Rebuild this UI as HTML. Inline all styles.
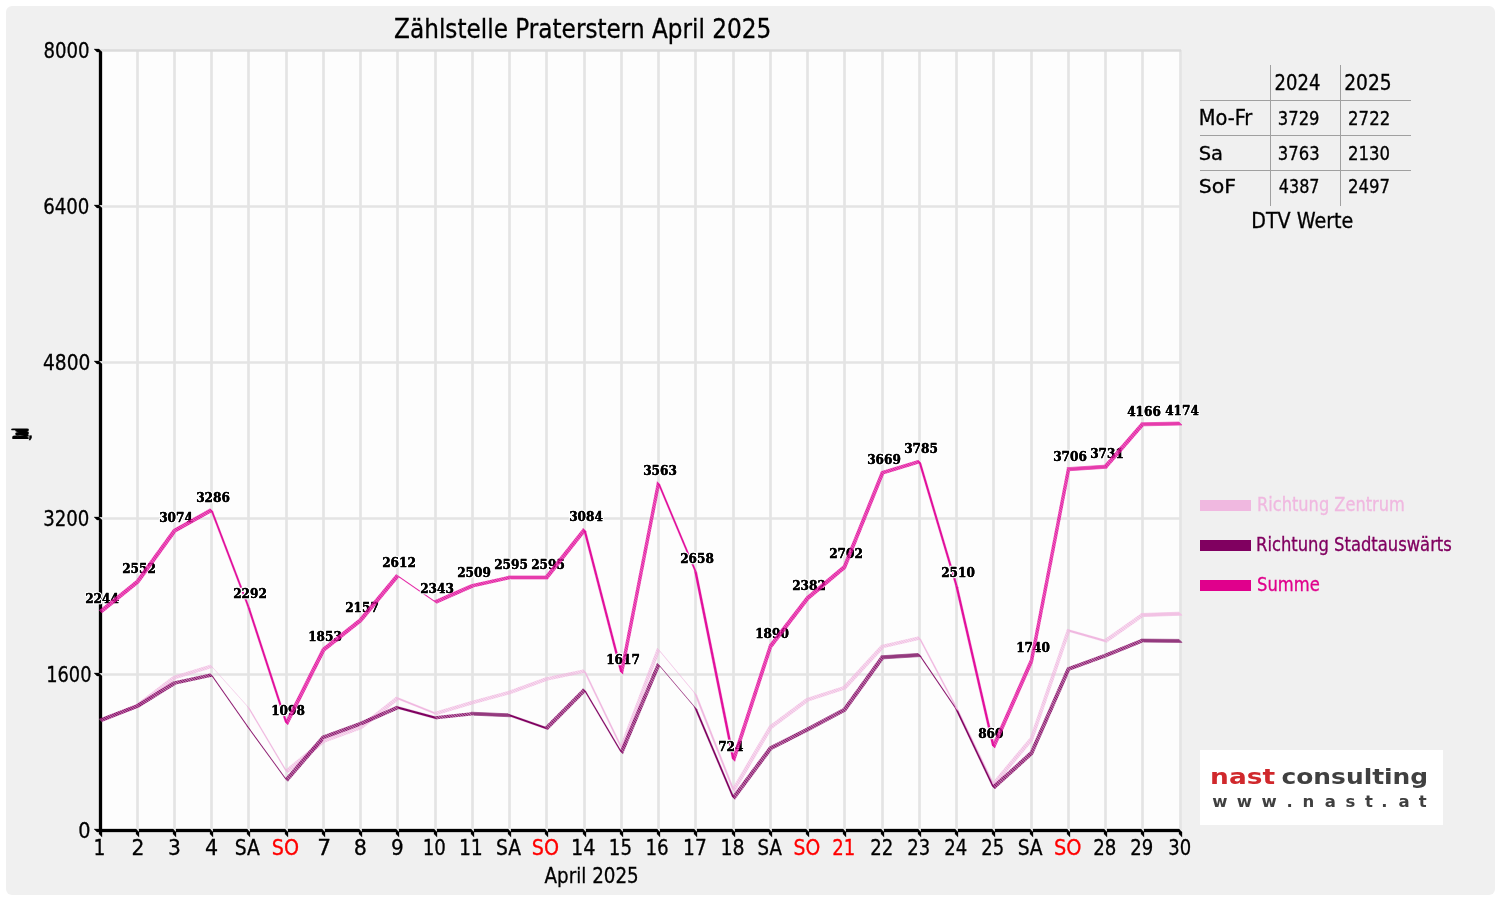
<!DOCTYPE html><html><head><meta charset="utf-8"><title>Zählstelle Praterstern April 2025</title><style>html,body{margin:0;padding:0;background:#fff;width:1500px;height:900px;overflow:hidden}svg{display:block;will-change:transform}text{font-family:'DejaVu Sans Condensed','DejaVu Sans','Liberation Sans',sans-serif}.l{font-family:'DejaVu Serif','Liberation Serif',serif;font-weight:bold;font-size:12.6px;fill:#000;stroke:#fff;stroke-width:2.6px;paint-order:stroke;stroke-linejoin:round}.l2{stroke:#000;stroke-width:0.35px;paint-order:normal}</style></head><body><svg width="1500" height="900" viewBox="0 0 1500 900"><rect x="6" y="6" width="1489" height="889" rx="6" fill="#f0f0f0"/><rect x="100" y="50" width="1081" height="781" fill="#fdfdfd"/><path d="M137.5 50V830M174.5 50V830M211.5 50V830M248.5 50V830M286.5 50V830M323.5 50V830M360.5 50V830M397.5 50V830M435.5 50V830M472.5 50V830M509.5 50V830M546.5 50V830M584.5 50V830M621.5 50V830M658.5 50V830M695.5 50V830M733.5 50V830M770.5 50V830M807.5 50V830M844.5 50V830M882.5 50V830M919.5 50V830M956.5 50V830M993.5 50V830M1031.5 50V830M1068.5 50V830M1105.5 50V830M1142.5 50V830M1180.5 50V830" stroke="#e4e4e4" stroke-width="2.7" fill="none"/><path d="M100 50.5H1181" stroke="#dbdbdb" stroke-width="2.7" fill="none"/><path d="M100 674.5H1181M100 518.5H1181M100 362.5H1181M100 206.5H1181" stroke="#e4e4e4" stroke-width="2.7" fill="none"/><rect x="1200" y="750" width="243" height="75" fill="#fff"/><text x="43.4" y="58" font-size="22" textLength="46.16" lengthAdjust="spacingAndGlyphs" style="fill:#000;stroke:#000;stroke-width:0.3px">8000</text><text x="43.2" y="214.2" font-size="20.65" textLength="46.19" lengthAdjust="spacingAndGlyphs" style="fill:#000;stroke:#000;stroke-width:0.3px">6400</text><text x="43" y="370.2" font-size="20.65" textLength="47.34" lengthAdjust="spacingAndGlyphs" style="fill:#000;stroke:#000;stroke-width:0.3px">4800</text><text x="43.2" y="526.2" font-size="20.65" textLength="46.19" lengthAdjust="spacingAndGlyphs" style="fill:#000;stroke:#000;stroke-width:0.3px">3200</text><text x="46.2" y="682.2" font-size="20.65" textLength="45.27" lengthAdjust="spacingAndGlyphs" style="fill:#000;stroke:#000;stroke-width:0.3px">1600</text><text x="78.2" y="838.2" font-size="21.21" textLength="12.26" lengthAdjust="spacingAndGlyphs" style="fill:#000;stroke:#000;stroke-width:0.3px">0</text><text x="93.5" y="855" font-size="21.96" textLength="11.9" lengthAdjust="spacingAndGlyphs" style="fill:#000;stroke:#000;stroke-width:0.3px">1</text><text x="131.4" y="855" font-size="21.61" textLength="12.88" lengthAdjust="spacingAndGlyphs" style="fill:#000;stroke:#000;stroke-width:0.3px">2</text><text x="168.1" y="855" font-size="21.61" textLength="12.86" lengthAdjust="spacingAndGlyphs" style="fill:#000;stroke:#000;stroke-width:0.3px">3</text><text x="205" y="855" font-size="21.61" textLength="13.13" lengthAdjust="spacingAndGlyphs" style="fill:#000;stroke:#000;stroke-width:0.3px">4</text><text x="234.8" y="855" font-size="21.61" textLength="25.13" lengthAdjust="spacingAndGlyphs" style="fill:#000;stroke:#000;stroke-width:0.3px">SA</text><text x="271.8" y="855" font-size="21.96" textLength="27.22" lengthAdjust="spacingAndGlyphs" style="fill:#ff0000;stroke:#ff0000;stroke-width:0.3px">SO</text><text x="317.3" y="855" font-size="21.61" textLength="13.86" lengthAdjust="spacingAndGlyphs" style="fill:#000;stroke:#000;stroke-width:0.3px">7</text><text x="353.7" y="855" font-size="21.61" textLength="13.15" lengthAdjust="spacingAndGlyphs" style="fill:#000;stroke:#000;stroke-width:0.3px">8</text><text x="391" y="855" font-size="21.61" textLength="12.72" lengthAdjust="spacingAndGlyphs" style="fill:#000;stroke:#000;stroke-width:0.3px">9</text><text x="422.7" y="855" font-size="21.61" textLength="23.13" lengthAdjust="spacingAndGlyphs" style="fill:#000;stroke:#000;stroke-width:0.3px">10</text><text x="458.9" y="855" font-size="21.61" textLength="23.96" lengthAdjust="spacingAndGlyphs" style="fill:#000;stroke:#000;stroke-width:0.3px">11</text><text x="495.9" y="855" font-size="21.61" textLength="25.07" lengthAdjust="spacingAndGlyphs" style="fill:#000;stroke:#000;stroke-width:0.3px">SA</text><text x="531.8" y="855" font-size="21.96" textLength="27.22" lengthAdjust="spacingAndGlyphs" style="fill:#ff0000;stroke:#ff0000;stroke-width:0.3px">SO</text><text x="570.9" y="855" font-size="21.61" textLength="24.52" lengthAdjust="spacingAndGlyphs" style="fill:#000;stroke:#000;stroke-width:0.3px">14</text><text x="608.8" y="855" font-size="21.61" textLength="23.16" lengthAdjust="spacingAndGlyphs" style="fill:#000;stroke:#000;stroke-width:0.3px">15</text><text x="645.4" y="855" font-size="21.61" textLength="23.26" lengthAdjust="spacingAndGlyphs" style="fill:#000;stroke:#000;stroke-width:0.3px">16</text><text x="683.1" y="855" font-size="21.61" textLength="23.63" lengthAdjust="spacingAndGlyphs" style="fill:#000;stroke:#000;stroke-width:0.3px">17</text><text x="720.4" y="855" font-size="21.61" textLength="24.15" lengthAdjust="spacingAndGlyphs" style="fill:#000;stroke:#000;stroke-width:0.3px">18</text><text x="757.6" y="855" font-size="21.61" textLength="24.28" lengthAdjust="spacingAndGlyphs" style="fill:#000;stroke:#000;stroke-width:0.3px">SA</text><text x="793.5" y="855" font-size="21.96" textLength="26.66" lengthAdjust="spacingAndGlyphs" style="fill:#ff0000;stroke:#ff0000;stroke-width:0.3px">SO</text><text x="832.3" y="855" font-size="21.96" textLength="23.03" lengthAdjust="spacingAndGlyphs" style="fill:#ff0000;stroke:#ff0000;stroke-width:0.3px">21</text><text x="870.25" y="855" font-size="21.61" textLength="23.1" lengthAdjust="spacingAndGlyphs" style="fill:#000;stroke:#000;stroke-width:0.3px">22</text><text x="907.24" y="855" font-size="21.61" textLength="22.93" lengthAdjust="spacingAndGlyphs" style="fill:#000;stroke:#000;stroke-width:0.3px">23</text><text x="944.26" y="855" font-size="21.61" textLength="22.98" lengthAdjust="spacingAndGlyphs" style="fill:#000;stroke:#000;stroke-width:0.3px">24</text><text x="981.25" y="855" font-size="21.61" textLength="22.93" lengthAdjust="spacingAndGlyphs" style="fill:#000;stroke:#000;stroke-width:0.3px">25</text><text x="1017.64" y="855" font-size="21.61" textLength="25.03" lengthAdjust="spacingAndGlyphs" style="fill:#000;stroke:#000;stroke-width:0.3px">SA</text><text x="1054" y="855" font-size="21.96" textLength="27.48" lengthAdjust="spacingAndGlyphs" style="fill:#ff0000;stroke:#ff0000;stroke-width:0.3px">SO</text><text x="1093.24" y="855" font-size="21.61" textLength="23.13" lengthAdjust="spacingAndGlyphs" style="fill:#000;stroke:#000;stroke-width:0.3px">28</text><text x="1130.26" y="855" font-size="21.61" textLength="22.99" lengthAdjust="spacingAndGlyphs" style="fill:#000;stroke:#000;stroke-width:0.3px">29</text><text x="1168.25" y="855" font-size="21.61" textLength="22.88" lengthAdjust="spacingAndGlyphs" style="fill:#000;stroke:#000;stroke-width:0.3px">30</text><text x="394.1" y="38" font-size="27.3" textLength="377.23" lengthAdjust="spacingAndGlyphs" style="fill:#000;stroke:#000;stroke-width:0.3px">Zählstelle Praterstern April 2025</text><text x="544.5" y="883" font-size="21.9" textLength="94.22" lengthAdjust="spacingAndGlyphs" style="fill:#000;stroke:#000;stroke-width:0.3px">April 2025</text><text x="1274.6" y="89.9" font-size="20.65" textLength="45.76" lengthAdjust="spacingAndGlyphs" style="fill:#000;stroke:#000;stroke-width:0.3px">2024</text><text x="1344.2" y="89.9" font-size="20.65" textLength="47.38" lengthAdjust="spacingAndGlyphs" style="fill:#000;stroke:#000;stroke-width:0.3px">2025</text><text x="1198.7" y="125" font-size="20.36" textLength="53.61" lengthAdjust="spacingAndGlyphs" style="fill:#000;stroke:#000;stroke-width:0.3px">Mo-Fr</text><text x="1277.8" y="125" font-size="18.7" textLength="41.69" lengthAdjust="spacingAndGlyphs" style="fill:#000;stroke:#000;stroke-width:0.3px">3729</text><text x="1348.1" y="125" font-size="18.7" textLength="42.08" lengthAdjust="spacingAndGlyphs" style="fill:#000;stroke:#000;stroke-width:0.3px">2722</text><text x="1198.7" y="160.2" font-size="19.15" textLength="24.33" lengthAdjust="spacingAndGlyphs" style="fill:#000;stroke:#000;stroke-width:0.3px">Sa</text><text x="1277.8" y="160.2" font-size="18.7" textLength="41.82" lengthAdjust="spacingAndGlyphs" style="fill:#000;stroke:#000;stroke-width:0.3px">3763</text><text x="1348.1" y="160.2" font-size="18.7" textLength="42" lengthAdjust="spacingAndGlyphs" style="fill:#000;stroke:#000;stroke-width:0.3px">2130</text><text x="1198.7" y="192.5" font-size="19.15" textLength="37.31" lengthAdjust="spacingAndGlyphs" style="fill:#000;stroke:#000;stroke-width:0.3px">SoF</text><text x="1278.8" y="192.5" font-size="19.05" textLength="40.7" lengthAdjust="spacingAndGlyphs" style="fill:#000;stroke:#000;stroke-width:0.3px">4387</text><text x="1348.1" y="192.5" font-size="19.05" textLength="42.03" lengthAdjust="spacingAndGlyphs" style="fill:#000;stroke:#000;stroke-width:0.3px">2497</text><text x="1251.2" y="227.6" font-size="20.79" textLength="102.21" lengthAdjust="spacingAndGlyphs" style="fill:#000;stroke:#000;stroke-width:0.3px">DTV Werte</text><text x="1257" y="510.8" font-size="19.1" textLength="147.85" lengthAdjust="spacingAndGlyphs" style="fill:#f0b8e0;stroke:#f0b8e0;stroke-width:0.3px">Richtung Zentrum</text><text x="1256" y="550.8" font-size="19.1" textLength="195.83" lengthAdjust="spacingAndGlyphs" style="fill:#800060;stroke:#800060;stroke-width:0.3px">Richtung Stadtauswärts</text><text x="1257" y="590.8" font-size="19.1" textLength="62.71" lengthAdjust="spacingAndGlyphs" style="fill:#e0008c;stroke:#e0008c;stroke-width:0.3px">Summe</text><text x="1210.1" y="783.5" font-size="21" textLength="64.98" lengthAdjust="spacingAndGlyphs" style="font-family:'DejaVu Sans','Liberation Sans',sans-serif;font-weight:bold;fill:#d0282c">nast</text><text x="1281.5" y="783.5" font-size="21" textLength="146.69" lengthAdjust="spacingAndGlyphs" style="font-family:'DejaVu Sans','Liberation Sans',sans-serif;font-weight:bold;fill:#404040">consulting</text><path d="M99 676H102V832H99ZM99 520H102V673H99ZM99 364H102V517H99ZM99 208H102V361H99ZM99 52H102V205H99ZM102 829H136V832H102ZM139 829H173V832H139ZM176 829H210V832H176ZM213 829H247V832H213ZM250 829H285V832H250ZM288 829H322V832H288ZM325 829H359V832H325ZM362 829H396V832H362ZM399 829H434V832H399ZM437 829H471V832H437ZM474 829H508V832H474ZM511 829H545V832H511ZM548 829H583V832H548ZM586 829H620V832H586ZM623 829H657V832H623ZM660 829H694V832H660ZM697 829H732V832H697ZM735 829H769V832H735ZM772 829H806V832H772ZM809 829H843V832H809ZM846 829H881V832H846ZM884 829H918V832H884ZM921 829H955V832H921ZM958 829H992V832H958ZM995 829H1030V832H995ZM1033 829H1067V832H1033ZM1070 829H1104V832H1070ZM1107 829H1141V832H1107ZM1144 829H1179V832H1144ZM94 829L99 829L102 832L97 832ZM94 673L99 673L102 676L97 676ZM94 517L99 517L102 520L97 520ZM94 361L99 361L102 364L97 364ZM94 205L99 205L102 208L97 208ZM94 49L99 49L102 52L97 52ZM102 832L102 837.1L99 834.1L99 829ZM139 832L139 837.1L136 834.1L136 829ZM176 832L176 837.1L173 834.1L173 829ZM213 832L213 837.1L210 834.1L210 829ZM250 832L250 837.1L247 834.1L247 829ZM288 832L288 837.1L285 834.1L285 829ZM325 832L325 837.1L322 834.1L322 829ZM362 832L362 837.1L359 834.1L359 829ZM399 832L399 837.1L396 834.1L396 829ZM437 832L437 837.1L434 834.1L434 829ZM474 832L474 837.1L471 834.1L471 829ZM511 832L511 837.1L508 834.1L508 829ZM548 832L548 837.1L545 834.1L545 829ZM586 832L586 837.1L583 834.1L583 829ZM623 832L623 837.1L620 834.1L620 829ZM660 832L660 837.1L657 834.1L657 829ZM697 832L697 837.1L694 834.1L694 829ZM735 832L735 837.1L732 834.1L732 829ZM772 832L772 837.1L769 834.1L769 829ZM809 832L809 837.1L806 834.1L806 829ZM846 832L846 837.1L843 834.1L843 829ZM884 832L884 837.1L881 834.1L881 829ZM921 832L921 837.1L918 834.1L918 829ZM958 832L958 837.1L955 834.1L955 829ZM995 832L995 837.1L992 834.1L992 829ZM1033 832L1033 837.1L1030 834.1L1030 829ZM1070 832L1070 837.1L1067 834.1L1067 829ZM1107 832L1107 837.1L1104 834.1L1104 829ZM1144 832L1144 837.1L1141 834.1L1141 829ZM1182 832L1182 837.1L1179 834.1L1179 829Z" fill="#000" stroke="#000" stroke-width="0.3"/><defs><pattern id="pZ" patternUnits="userSpaceOnUse" width="2" height="2" patternTransform="rotate(-45)"><rect width="2" height="2" fill="#f0b8e0" fill-opacity="0.42"/><rect width="1" height="2" fill="#f0b8e0" fill-opacity="0.88"/></pattern><pattern id="pT" patternUnits="userSpaceOnUse" width="2" height="2" patternTransform="rotate(-45)"><rect width="2" height="2" fill="#800060" fill-opacity="0.46"/><rect width="1" height="2" fill="#800060" fill-opacity="0.88"/></pattern><pattern id="pS" patternUnits="userSpaceOnUse" width="2" height="2" patternTransform="rotate(-45)"><rect width="2" height="2" fill="#e2109c" fill-opacity="0.62"/><rect width="1" height="2" fill="#e2109c" fill-opacity="0.88"/></pattern></defs><text class="l" x="85.2" y="603.11" textLength="33.69" lengthAdjust="spacingAndGlyphs">2244</text><text class="l l2" x="85.2" y="603.11" textLength="33.69" lengthAdjust="spacingAndGlyphs">2244</text><path d="M99 719.3L136 704.3L139 707.3L102 722.3Z" fill="url(#pZ)"/><path d="M99 718.7L136 704.5L139 707.5L102 721.7Z" fill="url(#pT)"/><path d="M99 610.21L136 580.18L139 583.18L102 613.21Z" fill="url(#pS)"/><text class="l" x="122.2" y="573.08" textLength="33.69" lengthAdjust="spacingAndGlyphs">2552</text><text class="l l2" x="122.2" y="573.08" textLength="33.69" lengthAdjust="spacingAndGlyphs">2552</text><path d="M136 704.3L173 676.1L176 679.1L139 707.3Z" fill="url(#pZ)"/><path d="M136 704.5L173 681.4L176 684.4L139 707.5Z" fill="url(#pT)"/><path d="M136 580.18L173 529.28L176 532.28L139 583.18Z" fill="url(#pS)"/><text class="l" x="159.2" y="522.18" textLength="33.69" lengthAdjust="spacingAndGlyphs">3074</text><text class="l l2" x="159.2" y="522.18" textLength="33.69" lengthAdjust="spacingAndGlyphs">3074</text><path d="M173 676.1L210 664.7L213 667.7L176 679.1Z" fill="url(#pZ)"/><path d="M173 681.4L210 673.4L213 676.4L176 684.4Z" fill="url(#pT)"/><path d="M173 529.28L210 508.62L213 511.62L176 532.28Z" fill="url(#pS)"/><text class="l" x="196.2" y="501.51" textLength="33.69" lengthAdjust="spacingAndGlyphs">3286</text><text class="l l2" x="196.2" y="501.51" textLength="33.69" lengthAdjust="spacingAndGlyphs">3286</text><path d="M213 667.7L250 709L247 706L210 664.7Z" fill="#f0b8e0" stroke="#f0b8e0" stroke-width="0.2" stroke-linejoin="round"/><path d="M213 676.4L250 729.3L247 726.3L210 673.4Z" fill="#800060" stroke="#800060" stroke-width="0.2" stroke-linejoin="round"/><path d="M213 511.62L250 608.53L247 605.53L210 508.62Z" fill="#e2109c" stroke="#e2109c" stroke-width="0.2" stroke-linejoin="round"/><text class="l" x="233.2" y="598.43" textLength="33.69" lengthAdjust="spacingAndGlyphs">2292</text><text class="l l2" x="233.2" y="598.43" textLength="33.69" lengthAdjust="spacingAndGlyphs">2292</text><path d="M250 709L288 773L285 770L247 706Z" fill="#f0b8e0" stroke="#f0b8e0" stroke-width="0.2" stroke-linejoin="round"/><path d="M250 729.3L288 781.4L285 778.4L247 726.3Z" fill="#800060" stroke="#800060" stroke-width="0.2" stroke-linejoin="round"/><path d="M250 608.53L288 724.94L285 721.94L247 605.53Z" fill="#e2109c" stroke="#e2109c" stroke-width="0.2" stroke-linejoin="round"/><text class="l" x="271.2" y="714.84" textLength="33.69" lengthAdjust="spacingAndGlyphs">1098</text><text class="l l2" x="271.2" y="714.84" textLength="33.69" lengthAdjust="spacingAndGlyphs">1098</text><path d="M285 770L322 739.5L325 742.5L288 773Z" fill="url(#pZ)"/><path d="M285 778.4L322 735.8L325 738.8L288 781.4Z" fill="url(#pT)"/><path d="M285 721.94L322 648.33L325 651.33L288 724.94Z" fill="url(#pS)"/><text class="l" x="308.2" y="641.23" textLength="33.69" lengthAdjust="spacingAndGlyphs">1853</text><text class="l l2" x="308.2" y="641.23" textLength="33.69" lengthAdjust="spacingAndGlyphs">1853</text><path d="M322 739.5L359 726L362 729L325 742.5Z" fill="url(#pZ)"/><path d="M322 735.8L359 722.2L362 725.2L325 738.8Z" fill="url(#pT)"/><path d="M322 648.33L359 618.69L362 621.69L325 651.33Z" fill="url(#pS)"/><text class="l" x="345.2" y="611.59" textLength="33.69" lengthAdjust="spacingAndGlyphs">2157</text><text class="l l2" x="345.2" y="611.59" textLength="33.69" lengthAdjust="spacingAndGlyphs">2157</text><path d="M359 726L396 696.8L399 699.8L362 729Z" fill="url(#pZ)"/><path d="M359 722.2L396 705.9L399 708.9L362 725.2Z" fill="url(#pT)"/><path d="M359 618.69L396 574.33L399 577.33L362 621.69Z" fill="url(#pS)"/><text class="l" x="382.2" y="567.23" textLength="33.69" lengthAdjust="spacingAndGlyphs">2612</text><text class="l l2" x="382.2" y="567.23" textLength="33.69" lengthAdjust="spacingAndGlyphs">2612</text><path d="M396 696.8L434 711.9L437 714.9L399 699.8Z" fill="#f0b8e0" stroke="#f0b8e0" stroke-width="0.2" stroke-linejoin="round"/><path d="M396 705.9L434 716.3L437 719.3L399 708.9Z" fill="#800060" stroke="#800060" stroke-width="0.2" stroke-linejoin="round"/><path d="M396 574.33L434 600.56L437 603.56L399 577.33Z" fill="#e2109c" stroke="#e2109c" stroke-width="0.2" stroke-linejoin="round"/><text class="l" x="420.2" y="593.46" textLength="33.69" lengthAdjust="spacingAndGlyphs">2343</text><text class="l l2" x="420.2" y="593.46" textLength="33.69" lengthAdjust="spacingAndGlyphs">2343</text><path d="M434 711.9L471 700.9L474 703.9L437 714.9Z" fill="url(#pZ)"/><path d="M434 716.3L471 712.2L474 715.2L437 719.3Z" fill="url(#pT)"/><path d="M434 600.56L471 584.37L474 587.37L437 603.56Z" fill="url(#pS)"/><text class="l" x="457.2" y="577.27" textLength="33.69" lengthAdjust="spacingAndGlyphs">2509</text><text class="l l2" x="457.2" y="577.27" textLength="33.69" lengthAdjust="spacingAndGlyphs">2509</text><path d="M471 700.9L508 691.1L511 694.1L474 703.9Z" fill="url(#pZ)"/><path d="M471 712.2L508 713.8L511 716.8L474 715.2Z" fill="#943a7e" stroke="#943a7e" stroke-width="0.7" stroke-linejoin="round"/><path d="M471 584.37L508 575.99L511 578.99L474 587.37Z" fill="url(#pS)"/><text class="l" x="494.2" y="568.89" textLength="33.69" lengthAdjust="spacingAndGlyphs">2595</text><text class="l l2" x="494.2" y="568.89" textLength="33.69" lengthAdjust="spacingAndGlyphs">2595</text><path d="M508 691.1L545 677.6L548 680.6L511 694.1Z" fill="url(#pZ)"/><path d="M508 713.8L545 726.7L548 729.7L511 716.8Z" fill="#800060" stroke="#800060" stroke-width="0.2" stroke-linejoin="round"/><path d="M508 575.99L545 575.99L548 578.99L511 578.99Z" fill="#e63cac" stroke="#e63cac" stroke-width="0.7" stroke-linejoin="round"/><text class="l" x="531.2" y="568.89" textLength="33.69" lengthAdjust="spacingAndGlyphs">2595</text><text class="l l2" x="531.2" y="568.89" textLength="33.69" lengthAdjust="spacingAndGlyphs">2595</text><path d="M545 677.6L583 669.5L586 672.5L548 680.6Z" fill="url(#pZ)"/><path d="M545 726.7L583 688.5L586 691.5L548 729.7Z" fill="url(#pT)"/><path d="M545 575.99L583 528.31L586 531.31L548 578.99Z" fill="url(#pS)"/><text class="l" x="569.2" y="521.21" textLength="33.69" lengthAdjust="spacingAndGlyphs">3084</text><text class="l l2" x="569.2" y="521.21" textLength="33.69" lengthAdjust="spacingAndGlyphs">3084</text><path d="M586 672.5L623 749.3L620 746.3L583 669.5Z" fill="#f0b8e0" stroke="#f0b8e0" stroke-width="0.2" stroke-linejoin="round"/><path d="M586 691.5L623 754.1L620 751.1L583 688.5Z" fill="#800060" stroke="#800060" stroke-width="0.2" stroke-linejoin="round"/><path d="M586 531.31L623 674.34L620 671.34L583 528.31Z" fill="#e2109c" stroke="#e2109c" stroke-width="0.2" stroke-linejoin="round"/><text class="l" x="606.2" y="664.24" textLength="33.69" lengthAdjust="spacingAndGlyphs">1617</text><text class="l l2" x="606.2" y="664.24" textLength="33.69" lengthAdjust="spacingAndGlyphs">1617</text><path d="M620 746.3L657 648L660 651L623 749.3Z" fill="url(#pZ)"/><path d="M620 751.1L657 663L660 666L623 754.1Z" fill="url(#pT)"/><path d="M620 671.34L657 481.61L660 484.61L623 674.34Z" fill="url(#pS)"/><text class="l" x="643.2" y="474.51" textLength="33.69" lengthAdjust="spacingAndGlyphs">3563</text><text class="l l2" x="643.2" y="474.51" textLength="33.69" lengthAdjust="spacingAndGlyphs">3563</text><path d="M660 651L697 695.5L694 692.5L657 648Z" fill="#f0b8e0" stroke="#f0b8e0" stroke-width="0.2" stroke-linejoin="round"/><path d="M660 666L697 709.5L694 706.5L657 663Z" fill="#800060" stroke="#800060" stroke-width="0.2" stroke-linejoin="round"/><path d="M660 484.61L697 572.85L694 569.85L657 481.61Z" fill="#e2109c" stroke="#e2109c" stroke-width="0.2" stroke-linejoin="round"/><text class="l" x="680.2" y="562.75" textLength="33.69" lengthAdjust="spacingAndGlyphs">2658</text><text class="l l2" x="680.2" y="562.75" textLength="33.69" lengthAdjust="spacingAndGlyphs">2658</text><path d="M697 695.5L735 791.7L732 788.7L694 692.5Z" fill="#f0b8e0" stroke="#f0b8e0" stroke-width="0.2" stroke-linejoin="round"/><path d="M697 709.5L735 799.4L732 796.4L694 706.5Z" fill="#800060" stroke="#800060" stroke-width="0.2" stroke-linejoin="round"/><path d="M697 572.85L735 761.41L732 758.41L694 569.85Z" fill="#e2109c" stroke="#e2109c" stroke-width="0.2" stroke-linejoin="round"/><text class="l" x="718.2" y="751.31" textLength="25.26" lengthAdjust="spacingAndGlyphs">724</text><text class="l l2" x="718.2" y="751.31" textLength="25.26" lengthAdjust="spacingAndGlyphs">724</text><path d="M732 788.7L769 725.8L772 728.8L735 791.7Z" fill="url(#pZ)"/><path d="M732 796.4L769 746.8L772 749.8L735 799.4Z" fill="url(#pT)"/><path d="M732 758.41L769 644.73L772 647.73L735 761.41Z" fill="url(#pS)"/><text class="l" x="755.2" y="637.62" textLength="33.69" lengthAdjust="spacingAndGlyphs">1890</text><text class="l l2" x="755.2" y="637.62" textLength="33.69" lengthAdjust="spacingAndGlyphs">1890</text><path d="M769 725.8L806 698.2L809 701.2L772 728.8Z" fill="url(#pZ)"/><path d="M769 746.8L806 728.1L809 731.1L772 749.8Z" fill="url(#pT)"/><path d="M769 644.73L806 596.75L809 599.75L772 647.73Z" fill="url(#pS)"/><text class="l" x="792.2" y="589.65" textLength="33.69" lengthAdjust="spacingAndGlyphs">2382</text><text class="l l2" x="792.2" y="589.65" textLength="33.69" lengthAdjust="spacingAndGlyphs">2382</text><path d="M806 698.2L843 686.2L846 689.2L809 701.2Z" fill="url(#pZ)"/><path d="M806 728.1L843 708.3L846 711.3L809 731.1Z" fill="url(#pT)"/><path d="M806 596.75L843 565.56L846 568.56L809 599.75Z" fill="url(#pS)"/><text class="l" x="829.2" y="558.46" textLength="33.69" lengthAdjust="spacingAndGlyphs">2702</text><text class="l l2" x="829.2" y="558.46" textLength="33.69" lengthAdjust="spacingAndGlyphs">2702</text><path d="M843 686.2L881 645L884 648L846 689.2Z" fill="url(#pZ)"/><path d="M843 708.3L881 655.8L884 658.8L846 711.3Z" fill="url(#pT)"/><path d="M843 565.56L881 471.27L884 474.27L846 568.56Z" fill="url(#pS)"/><text class="l" x="867.2" y="464.17" textLength="33.69" lengthAdjust="spacingAndGlyphs">3669</text><text class="l l2" x="867.2" y="464.17" textLength="33.69" lengthAdjust="spacingAndGlyphs">3669</text><path d="M881 645L918 636.4L921 639.4L884 648Z" fill="url(#pZ)"/><path d="M881 655.8L918 653.5L921 656.5L884 658.8Z" fill="#943a7e" stroke="#943a7e" stroke-width="0.7" stroke-linejoin="round"/><path d="M881 471.27L918 459.96L921 462.96L884 474.27Z" fill="url(#pS)"/><text class="l" x="904.2" y="452.86" textLength="33.69" lengthAdjust="spacingAndGlyphs">3785</text><text class="l l2" x="904.2" y="452.86" textLength="33.69" lengthAdjust="spacingAndGlyphs">3785</text><path d="M921 639.4L958 709.5L955 706.5L918 636.4Z" fill="#f0b8e0" stroke="#f0b8e0" stroke-width="0.2" stroke-linejoin="round"/><path d="M921 656.5L958 710.9L955 707.9L918 653.5Z" fill="#800060" stroke="#800060" stroke-width="0.2" stroke-linejoin="round"/><path d="M921 462.96L958 587.27L955 584.27L918 459.96Z" fill="#e2109c" stroke="#e2109c" stroke-width="0.2" stroke-linejoin="round"/><text class="l" x="941.2" y="577.17" textLength="33.69" lengthAdjust="spacingAndGlyphs">2510</text><text class="l l2" x="941.2" y="577.17" textLength="33.69" lengthAdjust="spacingAndGlyphs">2510</text><path d="M958 709.5L995 786L992 783L955 706.5Z" fill="#f0b8e0" stroke="#f0b8e0" stroke-width="0.2" stroke-linejoin="round"/><path d="M958 710.9L995 789L992 786L955 707.9Z" fill="#800060" stroke="#800060" stroke-width="0.2" stroke-linejoin="round"/><path d="M958 587.27L995 748.15L992 745.15L955 584.27Z" fill="#e2109c" stroke="#e2109c" stroke-width="0.2" stroke-linejoin="round"/><text class="l" x="978.2" y="738.05" textLength="25.26" lengthAdjust="spacingAndGlyphs">860</text><text class="l l2" x="978.2" y="738.05" textLength="25.26" lengthAdjust="spacingAndGlyphs">860</text><path d="M992 783L1030 737.4L1033 740.4L995 786Z" fill="url(#pZ)"/><path d="M992 786L1030 751.6L1033 754.6L995 789Z" fill="url(#pT)"/><path d="M992 745.15L1030 659.35L1033 662.35L995 748.15Z" fill="url(#pS)"/><text class="l" x="1016.2" y="652.25" textLength="33.69" lengthAdjust="spacingAndGlyphs">1740</text><text class="l l2" x="1016.2" y="652.25" textLength="33.69" lengthAdjust="spacingAndGlyphs">1740</text><path d="M1030 737.4L1067 629L1070 632L1033 740.4Z" fill="url(#pZ)"/><path d="M1030 751.6L1067 667.4L1070 670.4L1033 754.6Z" fill="url(#pT)"/><path d="M1030 659.35L1067 467.66L1070 470.66L1033 662.35Z" fill="url(#pS)"/><text class="l" x="1053.2" y="460.56" textLength="33.69" lengthAdjust="spacingAndGlyphs">3706</text><text class="l l2" x="1053.2" y="460.56" textLength="33.69" lengthAdjust="spacingAndGlyphs">3706</text><path d="M1067 629L1104 639.6L1107 642.6L1070 632Z" fill="#f0b8e0" stroke="#f0b8e0" stroke-width="0.2" stroke-linejoin="round"/><path d="M1067 667.4L1104 654.1L1107 657.1L1070 670.4Z" fill="url(#pT)"/><path d="M1067 467.66L1104 465.23L1107 468.23L1070 470.66Z" fill="#e63cac" stroke="#e63cac" stroke-width="0.7" stroke-linejoin="round"/><text class="l" x="1090.2" y="458.13" textLength="33.69" lengthAdjust="spacingAndGlyphs">3731</text><text class="l l2" x="1090.2" y="458.13" textLength="33.69" lengthAdjust="spacingAndGlyphs">3731</text><path d="M1104 639.6L1141 613.5L1144 616.5L1107 642.6Z" fill="url(#pZ)"/><path d="M1104 654.1L1141 639.1L1144 642.1L1107 657.1Z" fill="url(#pT)"/><path d="M1104 465.23L1141 422.81L1144 425.81L1107 468.23Z" fill="url(#pS)"/><text class="l" x="1127.2" y="415.71" textLength="33.69" lengthAdjust="spacingAndGlyphs">4166</text><text class="l l2" x="1127.2" y="415.71" textLength="33.69" lengthAdjust="spacingAndGlyphs">4166</text><path d="M1141 613.5L1179 612.2L1182 615.2L1144 616.5Z" fill="#f2c2e4" stroke="#f2c2e4" stroke-width="0.7" stroke-linejoin="round"/><path d="M1141 639.1L1179 639.4L1182 642.4L1144 642.1Z" fill="#943a7e" stroke="#943a7e" stroke-width="0.7" stroke-linejoin="round"/><path d="M1141 422.81L1179 422.03L1182 425.03L1144 425.81Z" fill="#e63cac" stroke="#e63cac" stroke-width="0.7" stroke-linejoin="round"/><text class="l" x="1165.2" y="414.93" textLength="33.69" lengthAdjust="spacingAndGlyphs">4174</text><text class="l l2" x="1165.2" y="414.93" textLength="33.69" lengthAdjust="spacingAndGlyphs">4174</text><text x="0" y="0" font-size="12" font-weight="bold" stroke="#000" stroke-width="2.4" stroke-linejoin="round" textLength="10.5" lengthAdjust="spacingAndGlyphs" transform="translate(27.3 439) rotate(-90) scale(1 1.5)">Rad</text><text x="28.4" y="438.2" font-size="12" font-weight="bold" stroke="#000" stroke-width="0.5">,</text><path d="M1270.5 65V206M1340.5 65V206M1200 100.5H1411M1200 135.5H1411M1200 170.5H1411" stroke="#a0a0a0" stroke-width="1" fill="none"/><rect x="1200" y="500" width="51" height="11" fill="#f0b8e0"/><rect x="1200" y="540" width="51" height="11" fill="#800060"/><rect x="1200" y="580" width="51" height="11" fill="#e0008c"/><text x="1219.9 1244.4 1269 1289.6 1308.3 1330.4 1350.4 1369 1384.5 1404 1422.8" y="807.2" style="font-family:'DejaVu Sans','Liberation Sans',sans-serif;font-weight:bold;font-size:16.5px;fill:#404040" text-anchor="middle">www.nast.at</text></svg></body></html>
